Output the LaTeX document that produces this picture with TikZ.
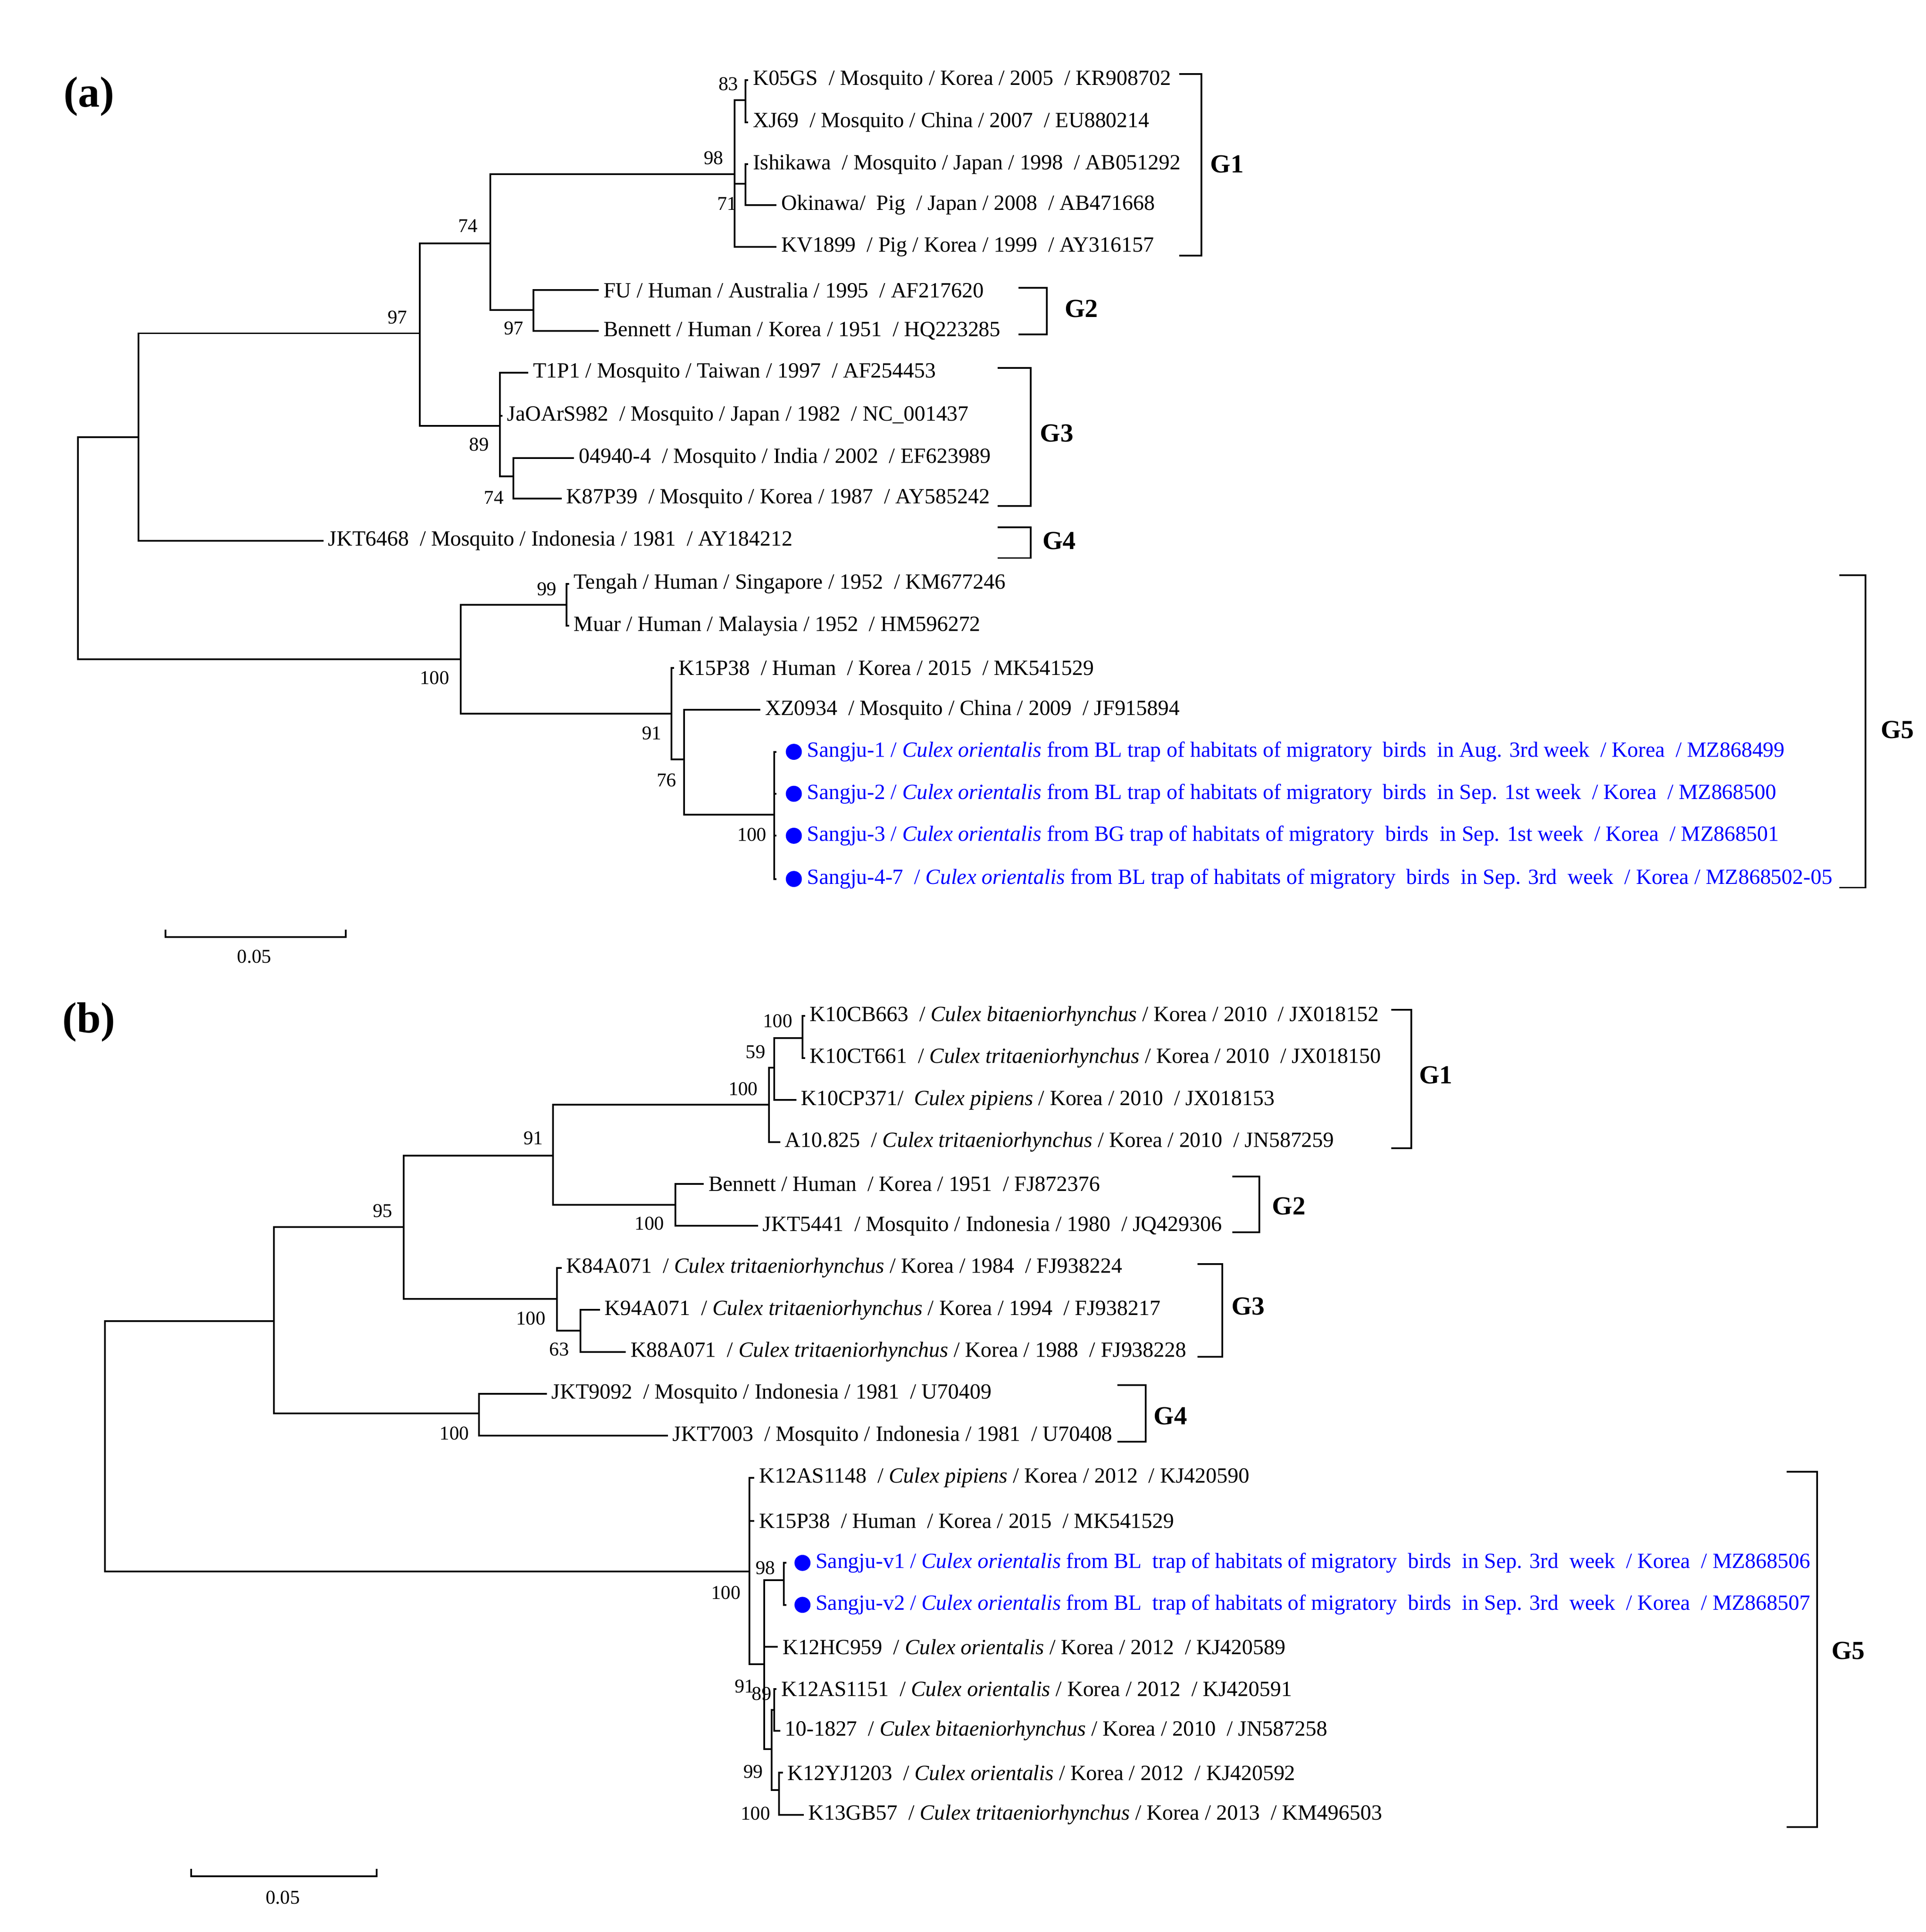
\documentclass[tikz,border=0pt]{standalone}
\usepackage{fontspec}
\setmainfont{Liberation Serif}
\definecolor{seqblue}{RGB}{0,0,255}
\tikzset{
  branch/.style={line width=0.8pt},
  leaf/.style={anchor=west,inner sep=2pt,font=\fontsize{10}{12}\selectfont},
  myleaf/.style={leaf,text=seqblue},
  boot/.style={inner sep=0pt,font=\fontsize{9}{11}\selectfont},
  clade/.style={font=\fontsize{12}{14}\selectfont\bfseries},
  brk/.style={line width=0.8pt},
  dot/.style={circle,fill=seqblue,inner sep=0pt,minimum size=0.26cm}
}
\begin{document}
\begin{tikzpicture}[x=0.02cm,y=-0.02cm]
    \useasboundingbox (0,0) rectangle (1560,1565);
    % Rotulos de paneles
    \node[font=\fontsize{20}{22}\selectfont\bfseries] (pa) at (72,78) {(a)};
    \node[font=\fontsize{20}{22}\selectfont\bfseries] (pb) at (72,828) {(b)};
    %%%%%%%%%%%%%%%%%%%% Panel (a) %%%%%%%%%%%%%%%%%%%%
    % Nodos internos
    \coordinate (A0)  at (63,444);
    \coordinate (A1)  at (112,354);
    \coordinate (A2)  at (340,270);
    \coordinate (A3)  at (397,197);
    \coordinate (A4)  at (595,141);
    \coordinate (A4a) at (604,81);
    \coordinate (A4b) at (604,149);
    \coordinate (A5)  at (432,251);
    \coordinate (A6)  at (405,345);
    \coordinate (A6a) at (416,386);
    \coordinate (A7)  at (373,534);
    \coordinate (A8)  at (459,490);
    \coordinate (A9)  at (544,578);
    \coordinate (A10) at (554,615);
    \coordinate (A11) at (627,660);
    % Puntas de las hojas
    \coordinate (tK05GS)  at (606,65);
    \coordinate (tXJ69)   at (606,99);
    \coordinate (tIshi)   at (606,133);
    \coordinate (tOkin)   at (629,166);
    \coordinate (tKV)     at (629,200);
    \coordinate (tFU)     at (485,235);
    \coordinate (tBenA)   at (485,268);
    \coordinate (tT1P1)   at (428,302);
    \coordinate (tJaO)    at (407,337);
    \coordinate (t04940)  at (465,371);
    \coordinate (tK87)    at (455,404);
    \coordinate (tJKT64)  at (262,438);
    \coordinate (tTeng)   at (461,473);
    \coordinate (tMuar)   at (461,507);
    \coordinate (tK15A)   at (546,541);
    \coordinate (tXZ)     at (616,575);
    \coordinate (tS1)     at (629,609);
    \coordinate (tS2)     at (629,643);
    \coordinate (tS3)     at (629,677);
    \coordinate (tS4)     at (629,712);
    % Ramas
    \draw[branch] (A0) |- (A1);
    \draw[branch] (A0) |- (A7);
    \draw[branch] (A1) |- (A2);
    \draw[branch] (A1) |- (tJKT64);
    \draw[branch] (A2) |- (A3);
    \draw[branch] (A2) |- (A6);
    \draw[branch] (A3) |- (A4);
    \draw[branch] (A3) |- (A5);
    \draw[branch] (A4) |- (A4a);
    \draw[branch] (A4) |- (A4b);
    \draw[branch] (A4) |- (tKV);
    \draw[branch] (A4a) |- (tK05GS);
    \draw[branch] (A4a) |- (tXJ69);
    \draw[branch] (A4b) |- (tIshi);
    \draw[branch] (A4b) |- (tOkin);
    \draw[branch] (A5) |- (tFU);
    \draw[branch] (A5) |- (tBenA);
    \draw[branch] (A6) |- (tT1P1);
    \draw[branch] (A6) |- (tJaO);
    \draw[branch] (A6) |- (A6a);
    \draw[branch] (A6a) |- (t04940);
    \draw[branch] (A6a) |- (tK87);
    \draw[branch] (A7) |- (A8);
    \draw[branch] (A7) |- (A9);
    \draw[branch] (A8) |- (tTeng);
    \draw[branch] (A8) |- (tMuar);
    \draw[branch] (A9) |- (tK15A);
    \draw[branch] (A9) |- (A10);
    \draw[branch] (A10) |- (tXZ);
    \draw[branch] (A10) |- (A11);
    \draw[branch] (A11) |- (tS1);
    \draw[branch] (A11) |- (tS2);
    \draw[branch] (A11) |- (tS3);
    \draw[branch] (A11) |- (tS4);
    % Hojas
    \node[leaf] (K05GS) at (tK05GS) {K05GS ~/ Mosquito / Korea / 2005 ~/ KR908702};
    \node[leaf] (XJ69)  at (tXJ69)  {XJ69 ~/ Mosquito / China / 2007 ~/ EU880214};
    \node[leaf] (Ishi)  at (tIshi)  {Ishikawa ~/ Mosquito / Japan / 1998 ~/ AB051292};
    \node[leaf] (Okin)  at (tOkin)  {Okinawa/ ~Pig ~/ Japan / 2008 ~/ AB471668};
    \node[leaf] (KV)    at (tKV)    {KV1899 ~/ Pig / Korea / 1999 ~/ AY316157};
    \node[leaf] (FU)    at (tFU)    {FU / Human / Australia / 1995 ~/ AF217620};
    \node[leaf] (BenA)  at (tBenA)  {Bennett / Human / Korea / 1951 ~/ HQ223285};
    \node[leaf] (T1P1)  at (tT1P1)  {T1P1 / Mosquito / Taiwan / 1997 ~/ AF254453};
    \node[leaf] (JaO)   at (tJaO)   {JaOArS982 ~/ Mosquito / Japan / 1982 ~/ NC\_001437};
    \node[leaf] (N04940) at (t04940) {04940-4 ~/ Mosquito / India / 2002 ~/ EF623989};
    \node[leaf] (K87)   at (tK87)   {K87P39 ~/ Mosquito / Korea / 1987 ~/ AY585242};
    \node[leaf] (JKT64) at (tJKT64) {JKT6468 ~/ Mosquito / Indonesia / 1981 ~/ AY184212};
    \node[leaf] (Teng)  at (tTeng)  {Tengah / Human / Singapore / 1952 ~/ KM677246};
    \node[leaf] (Muar)  at (tMuar)  {Muar / Human / Malaysia / 1952 ~/ HM596272};
    \node[leaf] (K15A)  at (tK15A)  {K15P38 ~/ Human ~/ Korea / 2015 ~/ MK541529};
    \node[leaf] (XZ)    at (tXZ)    {XZ0934 ~/ Mosquito / China / 2009 ~/ JF915894};
    \node[dot] (dS1) at (643,609) {};
    \node[dot] (dS2) at (643,643) {};
    \node[dot] (dS3) at (643,677) {};
    \node[dot] (dS4) at (643,712) {};
    \node[myleaf] (S1) at (dS1.east) {Sangju-1 / \textit{Culex orientalis} from BL trap of habitats of migratory ~birds ~in Aug. 3rd week ~/ Korea ~/ MZ868499};
    \node[myleaf] (S2) at (dS2.east) {Sangju-2 / \textit{Culex orientalis} from BL trap of habitats of migratory ~birds ~in Sep. 1st week ~/ Korea ~/ MZ868500};
    \node[myleaf] (S3) at (dS3.east) {Sangju-3 / \textit{Culex orientalis} from BG trap of habitats of migratory ~birds ~in Sep. 1st week ~/ Korea ~/ MZ868501};
    \node[myleaf] (S4) at (dS4.east) {Sangju-4-7 ~/ \textit{Culex orientalis} from BL trap of habitats of migratory ~birds ~in Sep. 3rd ~week ~/ Korea / MZ868502-05};
    % Valores bootstrap
    \node[boot] at (590,68)  {83};
    \node[boot] at (578,128) {98};
    \node[boot] at (589,165) {71};
    \node[boot] at (379,183) {74};
    \node[boot] at (322,257) {97};
    \node[boot] at (416,266) {97};
    \node[boot] at (388,360) {89};
    \node[boot] at (400,403) {74};
    \node[boot] at (443,477) {99};
    \node[boot] at (352,549) {100};
    \node[boot] at (528,594) {91};
    \node[boot] at (540,632) {76};
    \node[boot] at (609,676) {100};
    % Corchetes de genotipos
    \draw[brk] (955,60)  -- (973,60)  -- (973,207) -- (955,207);
    \node[clade] at (994,133) {G1};
    \draw[brk] (825,233) -- (848,233) -- (848,271) -- (825,271);
    \node[clade] at (876,250) {G2};
    \draw[brk] (808,298) -- (835,298) -- (835,410) -- (808,410);
    \node[clade] at (856,351) {G3};
    \draw[brk] (808,427) -- (835,427) -- (835,452) -- (808,452);
    \node[clade] at (858,438) {G4};
    \draw[brk] (1490,466) -- (1511,466) -- (1511,719) -- (1490,719);
    \node[clade] at (1537,591) {G5};
    % Barra de escala
    \draw[line width=0.8pt] (134,753) -- (134,759) -- (280,759) -- (280,753);
    \node[boot] at (206,775) {0.05};
    %%%%%%%%%%%%%%%%%%%% Panel (b) %%%%%%%%%%%%%%%%%%%%
    % Nodos internos
    \coordinate (B0)  at (85,1170);
    \coordinate (B1)  at (222,1070);
    \coordinate (B2)  at (327,994);
    \coordinate (B3)  at (448,936);
    \coordinate (B4)  at (623,895);
    \coordinate (B4a) at (627,865);
    \coordinate (B4b) at (650,841);
    \coordinate (B6)  at (547,976);
    \coordinate (B7)  at (451,1052);
    \coordinate (B8)  at (470,1078);
    \coordinate (B9)  at (388,1145);
    \coordinate (B10) at (607,1273);
    \coordinate (B11) at (619,1348);
    \coordinate (B12) at (635,1280);
    \coordinate (B13) at (625,1417);
    \coordinate (B14) at (627,1385);
    \coordinate (B15) at (631,1450);
    % Puntas de las hojas
    \coordinate (tCB663)  at (652,823);
    \coordinate (tCT661)  at (652,857);
    \coordinate (tCP371)  at (645,891);
    \coordinate (tA10)    at (632,925);
    \coordinate (tBenB)   at (570,959);
    \coordinate (tJKT54)  at (614,993);
    \coordinate (tK84)    at (455,1027);
    \coordinate (tK94)    at (486,1061);
    \coordinate (tK88)    at (507,1095);
    \coordinate (tJKT90)  at (443,1129);
    \coordinate (tJKT70)  at (541,1163);
    \coordinate (tAS48)   at (611,1197);
    \coordinate (tK15B)   at (611,1232);
    \coordinate (tV1)     at (637,1266);
    \coordinate (tV2)     at (637,1300);
    \coordinate (tHC)     at (630,1334);
    \coordinate (tAS51)   at (629,1368);
    \coordinate (t1827)   at (632,1402);
    \coordinate (tYJ)     at (634,1436);
    \coordinate (tGB)     at (651,1470);
    % Ramas
    \draw[branch] (B0) |- (B1);
    \draw[branch] (B0) |- (B10);
    \draw[branch] (B1) |- (B2);
    \draw[branch] (B1) |- (B9);
    \draw[branch] (B2) |- (B3);
    \draw[branch] (B2) |- (B7);
    \draw[branch] (B3) |- (B4);
    \draw[branch] (B3) |- (B6);
    \draw[branch] (B4) |- (B4a);
    \draw[branch] (B4) |- (tA10);
    \draw[branch] (B4a) |- (B4b);
    \draw[branch] (B4a) |- (tCP371);
    \draw[branch] (B4b) |- (tCB663);
    \draw[branch] (B4b) |- (tCT661);
    \draw[branch] (B6) |- (tBenB);
    \draw[branch] (B6) |- (tJKT54);
    \draw[branch] (B7) |- (tK84);
    \draw[branch] (B7) |- (B8);
    \draw[branch] (B8) |- (tK94);
    \draw[branch] (B8) |- (tK88);
    \draw[branch] (B9) |- (tJKT90);
    \draw[branch] (B9) |- (tJKT70);
    \draw[branch] (B10) |- (tAS48);
    \draw[branch] (B10) |- (tK15B);
    \draw[branch] (B10) |- (B11);
    \draw[branch] (B11) |- (B12);
    \draw[branch] (B11) |- (tHC);
    \draw[branch] (B11) |- (B13);
    \draw[branch] (B12) |- (tV1);
    \draw[branch] (B12) |- (tV2);
    \draw[branch] (B13) |- (B14);
    \draw[branch] (B13) |- (B15);
    \draw[branch] (B14) |- (tAS51);
    \draw[branch] (B14) |- (t1827);
    \draw[branch] (B15) |- (tYJ);
    \draw[branch] (B15) |- (tGB);
    % Hojas
    \node[leaf] (CB663) at (tCB663) {K10CB663 ~/ \textit{Culex bitaeniorhynchus} / Korea / 2010 ~/ JX018152};
    \node[leaf] (CT661) at (tCT661) {K10CT661 ~/ \textit{Culex tritaeniorhynchus} / Korea / 2010 ~/ JX018150};
    \node[leaf] (CP371) at (tCP371) {K10CP371/ ~\textit{Culex pipiens} / Korea / 2010 ~/ JX018153};
    \node[leaf] (A10)   at (tA10)   {A10.825 ~/ \textit{Culex tritaeniorhynchus} / Korea / 2010 ~/ JN587259};
    \node[leaf] (BenB)  at (tBenB)  {Bennett / Human ~/ Korea / 1951 ~/ FJ872376};
    \node[leaf] (JKT54) at (tJKT54) {JKT5441 ~/ Mosquito / Indonesia / 1980 ~/ JQ429306};
    \node[leaf] (K84)   at (tK84)   {K84A071 ~/ \textit{Culex tritaeniorhynchus} / Korea / 1984 ~/ FJ938224};
    \node[leaf] (K94)   at (tK94)   {K94A071 ~/ \textit{Culex tritaeniorhynchus} / Korea / 1994 ~/ FJ938217};
    \node[leaf] (K88)   at (tK88)   {K88A071 ~/ \textit{Culex tritaeniorhynchus} / Korea / 1988 ~/ FJ938228};
    \node[leaf] (JKT90) at (tJKT90) {JKT9092 ~/ Mosquito / Indonesia / 1981 ~/ U70409};
    \node[leaf] (JKT70) at (tJKT70) {JKT7003 ~/ Mosquito / Indonesia / 1981 ~/ U70408};
    \node[leaf] (AS48)  at (tAS48)  {K12AS1148 ~/ \textit{Culex pipiens} / Korea / 2012 ~/ KJ420590};
    \node[leaf] (K15B)  at (tK15B)  {K15P38 ~/ Human ~/ Korea / 2015 ~/ MK541529};
    \node[dot] (dV1) at (650,1266) {};
    \node[dot] (dV2) at (650,1300) {};
    \node[myleaf] (V1) at (dV1.east) {Sangju-v1 / \textit{Culex orientalis} from BL ~trap of habitats of migratory ~birds ~in Sep. 3rd ~week ~/ Korea ~/ MZ868506};
    \node[myleaf] (V2) at (dV2.east) {Sangju-v2 / \textit{Culex orientalis} from BL ~trap of habitats of migratory ~birds ~in Sep. 3rd ~week ~/ Korea ~/ MZ868507};
    \node[leaf] (HC)    at (tHC)    {K12HC959 ~/ \textit{Culex orientalis} / Korea / 2012 ~/ KJ420589};
    \node[leaf] (AS51)  at (tAS51)  {K12AS1151 ~/ \textit{Culex orientalis} / Korea / 2012 ~/ KJ420591};
    \node[leaf] (N1827) at (t1827)  {10-1827 ~/ \textit{Culex bitaeniorhynchus} / Korea / 2010 ~/ JN587258};
    \node[leaf] (YJ)    at (tYJ)    {K12YJ1203 ~/ \textit{Culex orientalis} / Korea / 2012 ~/ KJ420592};
    \node[leaf] (GB)    at (tGB)    {K13GB57 ~/ \textit{Culex tritaeniorhynchus} / Korea / 2013 ~/ KM496503};
    % Valores bootstrap
    \node[boot] at (630,827)  {100};
    \node[boot] at (612,852)  {59};
    \node[boot] at (602,882)  {100};
    \node[boot] at (432,922)  {91};
    \node[boot] at (310,981)  {95};
    \node[boot] at (526,991)  {100};
    \node[boot] at (430,1068) {100};
    \node[boot] at (453,1093) {63};
    \node[boot] at (368,1161) {100};
    \node[boot] at (620,1270) {98};
    \node[boot] at (588,1290) {100};
    \node[boot] at (603,1366) {91};
    \node[boot] at (617,1372) {89};
    \node[boot] at (610,1435) {99};
    \node[boot] at (612,1469) {100};
    % Corchetes de genotipos
    \draw[brk] (1127,818)  -- (1143,818)  -- (1143,930)  -- (1127,930);
    \node[clade] at (1163,871) {G1};
    \draw[brk] (998,953)   -- (1020,953)  -- (1020,998)  -- (998,998);
    \node[clade] at (1044,977) {G2};
    \draw[brk] (970,1024)  -- (990,1024)  -- (990,1099)  -- (970,1099);
    \node[clade] at (1011,1058) {G3};
    \draw[brk] (905,1122)  -- (928,1122)  -- (928,1168)  -- (905,1168);
    \node[clade] at (948,1147) {G4};
    \draw[brk] (1447,1192) -- (1472,1192) -- (1472,1480) -- (1447,1480);
    \node[clade] at (1497,1337) {G5};
    % Barra de escala
    \draw[line width=0.8pt] (155,1514) -- (155,1520) -- (305,1520) -- (305,1514);
    \node[boot] at (229,1537) {0.05};
\end{tikzpicture}
\end{document}
